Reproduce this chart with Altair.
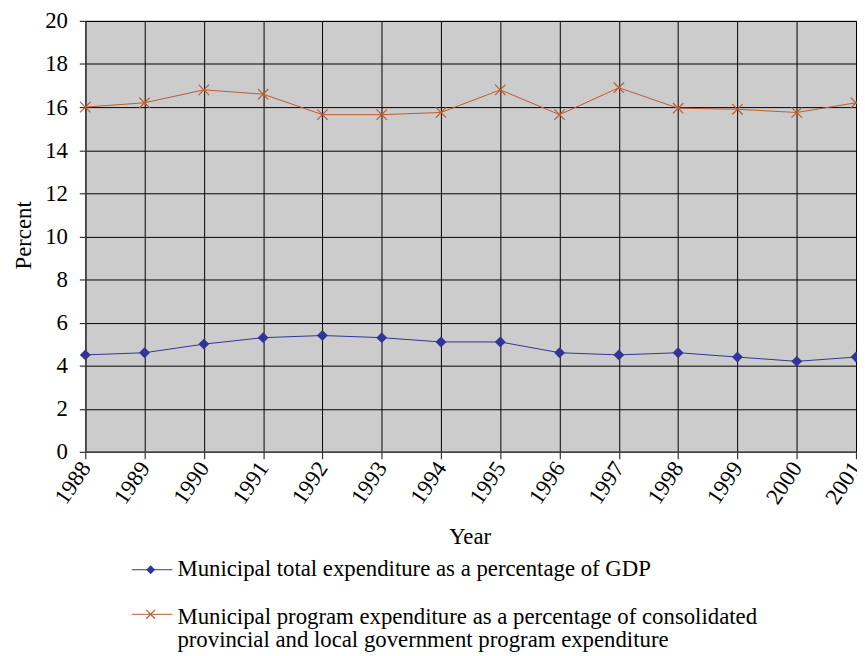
import altair as alt
import pandas as pd

years = list(range(1988, 2002))
gdp_share = [4.5, 4.6, 5.0, 5.3, 5.4, 5.3, 5.1, 5.1, 4.6, 4.5, 4.6, 4.4, 4.2, 4.4]
program_share = [16.0, 16.2, 16.8, 16.6, 15.65, 15.65, 15.75, 16.8, 15.65, 16.9, 15.95, 15.9, 15.75, 16.2]
series_names = [
    "Municipal total expenditure as a percentage of GDP",
    "Municipal program expenditure as a percentage of consolidated provincial and local government program expenditure",
]
legend_text = [
    "Municipal total expenditure as a percentage of GDP",
    "Municipal program expenditure as a percentage of consolidated\nprovincial and local government program expenditure",
]
y_ticks = list(range(0, 21, 2))

BLUE = "#333399"
ORANGE = "#BC5B2C"
FONT = "Liberation Serif"
XPATH = "M-1,-1L1,1M-1,1L1,-1"

df = pd.DataFrame({
    "year": years * 2,
    "value": gdp_share + program_share,
    "series": [series_names[0]] * len(years) + [series_names[1]] * len(years),
})

x_enc = alt.X(
    "year:O",
    scale=alt.Scale(type="point", padding=0),
    axis=alt.Axis(
        title="Year", labelAngle=304, labelAlign="right", labelBaseline="middle",
        labelPadding=5, tickSize=7, grid=True,
        labelFont=FONT, labelFontSize=23, titleFont=FONT, titleFontSize=23,
        titleX=388, titleY=93, titleAlign="center", titleBaseline="alphabetic",
    ),
)
y_enc = alt.Y(
    "value:Q",
    scale=alt.Scale(domain=[0, 20], nice=False, zero=True),
    axis=alt.Axis(
        title="Percent", values=y_ticks, tickSize=6, labelPadding=12, grid=True,
        labelFont=FONT, labelFontSize=23, titleFont=FONT, titleFontSize=23,
        titleAngle=270, titleX=-62, titleY=216, titleAlign="center", titleBaseline="middle",
    ),
)

base = alt.Chart(df).encode(x=x_enc, y=y_enc)

s1 = base.transform_filter(alt.datum.series == series_names[0])
s2 = base.transform_filter(alt.datum.series == series_names[1])

line1 = s1.mark_line(color=BLUE, strokeWidth=1)
pts1 = s1.mark_point(shape="diamond", filled=True, size=121, color=BLUE, opacity=1)
line2 = s2.mark_line(color=ORANGE, strokeWidth=1)
pts2 = s2.mark_point(shape=XPATH, filled=False, size=110, color=ORANGE, strokeWidth=1.2, opacity=1)

# Legend (drawn manually below the plot)
leg_src1 = alt.Chart(pd.DataFrame({"label": [legend_text[0]]}))
leg_src2 = alt.Chart(pd.DataFrame({"label": [legend_text[1]]}))

leg1_rule = leg_src1.mark_rule(color=BLUE, strokeWidth=1).encode(
    x=alt.value(47), x2=alt.value(88), y=alt.value(554))
leg1_pt = leg_src1.mark_point(shape="diamond", filled=True, size=81, color=BLUE, opacity=1).encode(
    x=alt.value(66), y=alt.value(554))
leg1_txt = leg_src1.mark_text(align="left", baseline="alphabetic", font=FONT, fontSize=23,
                              color="black", lineBreak="\n", lineHeight=23).encode(
    text="label:N", x=alt.value(93), y=alt.value(560))

leg2_rule = leg_src2.mark_rule(color=ORANGE, strokeWidth=1).encode(
    x=alt.value(47), x2=alt.value(88), y=alt.value(599))
leg2_pt = leg_src2.mark_point(shape=XPATH, filled=False, size=81, color=ORANGE, strokeWidth=1.2, opacity=1).encode(
    x=alt.value(66), y=alt.value(599))
leg2_txt = leg_src2.mark_text(align="left", baseline="alphabetic", font=FONT, fontSize=23,
                              color="black", lineBreak="\n", lineHeight=23).encode(
    text="label:N", x=alt.value(93), y=alt.value(609))

chart = alt.layer(
    line1, pts1, line2, pts2,
    leg1_rule, leg1_pt, leg1_txt, leg2_rule, leg2_pt, leg2_txt,
).properties(
    width=778,
    height=435,
    padding={"left": 78, "top": 10, "right": 1, "bottom": 200},
    autosize=alt.AutoSizeParams(type="none"),
    background="white",
).configure_view(
    fill="#CCCCCC", stroke="black", strokeWidth=1,
).configure_axis(
    labelColor="black", titleColor="black", titleFontWeight="normal",
    gridColor="black", gridWidth=1, gridOpacity=1,
    domainColor="#444444", domainWidth=1.5, tickColor="#333333", tickWidth=1.2,
    labelOverlap=False,
)

chart.save("out.html", embed_options={"renderer": "svg", "actions": False})
